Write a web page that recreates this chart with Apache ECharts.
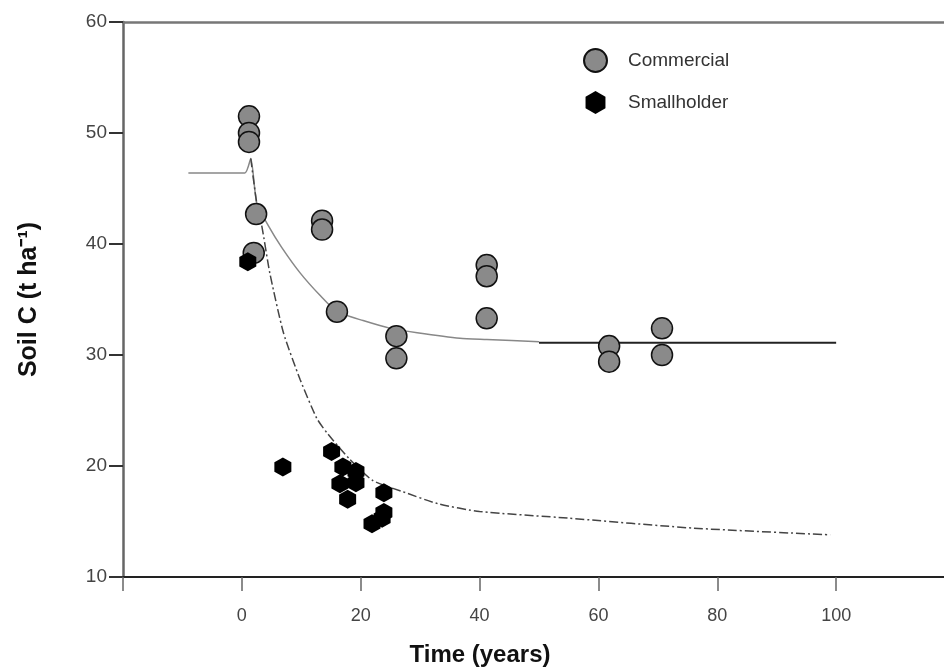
<!DOCTYPE html>
<html>
<head>
<meta charset="utf-8">
<script src="https://cdn.jsdelivr.net/npm/echarts@6/dist/echarts.min.js"></script>
<style>
  html, body { margin: 0; padding: 0; background: #fff; }
  #chart { width: 944px; height: 672px; }
</style>
</head>
<body>
<div id="chart"></div>
<script>
var commercialX = [1.2, 1.2, 1.2, 2.4, 2.0, 13.5, 13.5, 16.0, 26.0, 26.0, 41.2, 41.2, 41.2, 61.8, 61.8, 70.7, 70.7];
var commercialY = [51.5, 50.0, 49.2, 42.7, 39.2, 42.1, 41.3, 33.9, 31.7, 29.7, 38.1, 37.1, 33.3, 30.8, 29.4, 32.4, 30.0];

var smallX = [1.0, 6.9, 15.1, 17.0, 19.2, 16.5, 19.2, 17.8, 23.9, 23.9, 21.9, 23.6];
var smallY = [38.4, 19.9, 21.3, 19.9, 19.5, 18.4, 18.5, 17.0, 17.6, 15.8, 14.8, 15.3];

// fitted curves
var commFitX = [-9, 0.5, 1.5, 2.5, 4.4, 6.7, 9.8, 13.1, 16.0, 20.4, 25.0, 29.5, 36.7, 41.2, 50];
var commFitY = [46.4, 46.4, 47.7, 43.7, 41.7, 39.7, 37.4, 35.4, 33.9, 33.1, 32.4, 32.0, 31.5, 31.4, 31.2];
var commFlatX = [50, 100];
var commFlatY = [31.1, 31.1];

var smallFitX = [1.5, 2.5, 3.4, 4.7, 7.0, 9.8, 12.6, 14.3, 18.0, 22.0, 27.0, 33.0, 40.0, 55.0, 76.0, 99.0];
var smallFitY = [47.7, 43.7, 41.5, 37.4, 32.0, 27.8, 24.3, 23.0, 20.7, 18.7, 17.7, 16.6, 15.9, 15.3, 14.4, 13.8];

var yTicks = [10, 20, 30, 40, 50, 60];

function pairs(xs, ys) {
  return xs.map(function (x, i) { return [x, ys[i]]; });
}

var hexagon = 'path://M0,-10 L8.66,-5 L8.66,5 L0,10 L-8.66,5 L-8.66,-5 Z';

var chart = echarts.init(document.getElementById('chart'));

var option = {
  backgroundColor: '#fff',
  animation: false,
  grid: { left: 123, right: -11, top: 22, bottom: 95, outerBoundsMode: 'none', containLabel: false },
  legend: {
    orient: 'vertical',
    left: 578,
    top: 43,
    itemGap: 18,
    itemWidth: 23,
    itemHeight: 23,
    textStyle: { fontFamily: 'Liberation Sans', fontSize: 19, color: '#333', padding: [0, 0, 0, 16] },
    data: [
      { name: 'Commercial', icon: 'circle' },
      { name: 'Smallholder', icon: hexagon }
    ]
  },
  xAxis: [{
    type: 'value',
    min: -20, max: 120, interval: 20,
    name: 'Time (years)',
    nameLocation: 'middle',
    nameGap: 66,
    nameTextStyle: { fontFamily: 'Liberation Sans', fontSize: 24, fontWeight: 'bold', color: '#111', padding: [0, 118, 0, 0] },
    axisLine: { onZero: false, lineStyle: { color: '#222', width: 2 } },
    axisTick: { length: 14, lineStyle: { color: '#666', width: 1.5 } },
    axisLabel: {
      margin: 30,
      fontFamily: 'Liberation Sans', fontSize: 18, color: '#444',
      formatter: function (v) { return (v < 0 || v > 100) ? '' : v; }
    },
    splitLine: { show: false }
  }, {
    type: 'value',
    position: 'top',
    min: -20, max: 120,
    axisLine: { show: true, onZero: false, lineStyle: { color: '#777', width: 2.5 } },
    axisTick: { show: false },
    axisLabel: { show: false },
    splitLine: { show: false }
  }],
  yAxis: {
    type: 'value',
    min: yTicks[0], max: yTicks[yTicks.length - 1], interval: 10,
    name: 'Soil C (t ha⁻¹)',
    nameLocation: 'middle',
    nameGap: 81,
    nameTextStyle: { fontFamily: 'Liberation Sans', fontSize: 25, fontWeight: 'bold', color: '#111' },
    axisLine: { show: true, onZero: false, lineStyle: { color: '#666', width: 2.5 } },
    axisTick: { show: true, length: 14, lineStyle: { color: '#333', width: 2 } },
    axisLabel: { margin: 16, fontFamily: 'Liberation Sans', fontSize: 19, color: '#444' },
    splitLine: { show: false }
  },
  series: [
    {
      name: 'commFit',
      type: 'line',
      data: pairs(commFitX, commFitY),
      showSymbol: false,
      smooth: 0.2,
      lineStyle: { color: '#888', width: 1.5 },
      z: 1
    },
    {
      name: 'commFlat',
      type: 'line',
      data: pairs(commFlatX, commFlatY),
      showSymbol: false,
      lineStyle: { color: '#222', width: 2 },
      z: 1
    },
    {
      name: 'smallFit',
      type: 'line',
      data: pairs(smallFitX, smallFitY),
      showSymbol: false,
      smooth: 0.2,
      lineStyle: { color: '#444', width: 1.5, type: [9, 3, 2, 3] },
      z: 1
    },
    {
      name: 'Commercial',
      type: 'scatter',
      data: pairs(commercialX, commercialY),
      symbol: 'circle',
      symbolSize: 21,
      itemStyle: { color: '#8a8a8a', borderColor: '#111', borderWidth: 1.5, opacity: 1 },
      z: 3
    },
    {
      name: 'Smallholder',
      type: 'scatter',
      data: pairs(smallX, smallY),
      symbol: hexagon,
      symbolSize: [17, 19],
      itemStyle: { color: '#000', opacity: 1 },
      z: 4
    }
  ]
};

chart.setOption(option);
</script>
</body>
</html>
